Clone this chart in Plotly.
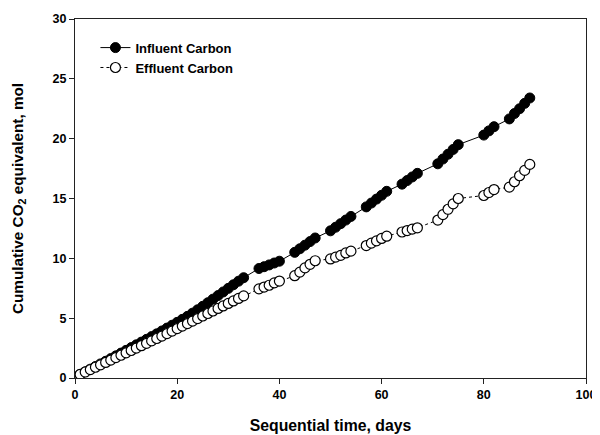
import plotly.graph_objects as go

# Days (sequential time) and cumulative CO2 equivalent (mol)
days_continuous = list(range(1, 34))
days_later = [36, 37, 38, 39, 40,
              43, 44, 45, 46, 47,
              50, 51, 52, 53, 54,
              57, 58, 59, 60, 61,
              64, 65, 66, 67,
              71, 72, 73, 74, 75,
              80, 81, 82,
              85, 86, 87, 88, 89]
days = days_continuous + days_later

influent_early = [0.30, 0.52, 0.74, 0.96, 1.18, 1.40, 1.62, 1.85, 2.08, 2.31,
                  2.54, 2.77, 3.00, 3.23, 3.46, 3.69, 3.93, 4.17, 4.41, 4.65,
                  4.90, 5.15, 5.42, 5.70, 5.99, 6.29, 6.59, 6.89, 7.19, 7.49,
                  7.79, 8.09, 8.38]
influent_late = [9.15, 9.30, 9.45, 9.61, 9.76,
                 10.5, 10.8, 11.1, 11.4, 11.7,
                 12.3, 12.6, 12.9, 13.2, 13.5,
                 14.3, 14.62, 14.95, 15.27, 15.6,
                 16.2, 16.5, 16.8, 17.1,
                 17.9, 18.3, 18.7, 19.1, 19.5,
                 20.3, 20.65, 21.0,
                 21.65, 22.1, 22.5, 22.95, 23.4]
influent = influent_early + influent_late

effluent_early = [0.30, 0.50, 0.70, 0.90, 1.10, 1.30, 1.50, 1.70, 1.90, 2.10,
                  2.30, 2.50, 2.70, 2.90, 3.10, 3.30, 3.50, 3.71, 3.92, 4.13,
                  4.34, 4.55, 4.76, 4.97, 5.18, 5.39, 5.60, 5.81, 6.02, 6.23,
                  6.44, 6.65, 6.86]
effluent_late = [7.45, 7.60, 7.75, 7.95, 8.10,
                 8.55, 8.85, 9.20, 9.50, 9.80,
                 9.95, 10.10, 10.25, 10.45, 10.60,
                 11.07, 11.27, 11.46, 11.66, 11.85,
                 12.20, 12.32, 12.44, 12.55,
                 13.20, 13.65, 14.10, 14.55, 15.00,
                 15.25, 15.50, 15.75,
                 15.95, 16.40, 16.90, 17.35, 17.85]
effluent = effluent_early + effluent_late

x_ticks = [0, 20, 40, 60, 80, 100]
y_ticks = [0, 5, 10, 15, 20, 25, 30]

FONT = "Liberation Sans, Arial, sans-serif"

fig = go.Figure()
fig.add_trace(go.Scatter(
    x=days, y=influent, name="<b>Influent Carbon</b>", mode="lines+markers",
    line=dict(color="black", width=1),
    marker=dict(symbol="circle", size=10, color="black",
                line=dict(color="black", width=1)),
))
fig.add_trace(go.Scatter(
    x=days, y=effluent, name="<b>Effluent Carbon</b>", mode="lines+markers",
    line=dict(color="black", width=1, dash="dot"),
    marker=dict(symbol="circle", size=10, color="white",
                line=dict(color="black", width=1.2)),
))

axis_common = dict(
    showgrid=False, zeroline=False, showline=True, linecolor="#222",
    linewidth=1.2, mirror=True, ticks="outside", ticklen=5, tickcolor="#222",
    automargin=False,
    tickfont=dict(family=FONT, size=12.5, color="black"),
)

# The page body adds an 8px offset, so the figure is sized to fit the window.
fig.update_layout(
    width=592, height=427,
    margin=dict(l=67, r=14, t=11, b=57),
    paper_bgcolor="white", plot_bgcolor="white",
    font=dict(family=FONT, color="black"),
    showlegend=True,
    legend=dict(x=0.04, y=0.962, xanchor="left", yanchor="top",
                bgcolor="rgba(0,0,0,0)", font=dict(family=FONT, size=13),
                tracegroupgap=0, itemwidth=30),
    xaxis=dict(range=[0, 100], tickvals=x_ticks,
               ticktext=[f"<b>{v}</b>" for v in x_ticks],
               title=dict(text="<b>Sequential time, days</b>",
                          font=dict(family=FONT, size=15.8), standoff=18),
               **axis_common),
    yaxis=dict(range=[0, 30], tickvals=y_ticks,
               ticktext=[f"<b>{v}</b>" for v in y_ticks],
               title=dict(text="<b>Cumulative CO<sub>2</sub> equivalent, mol</b>",
                          font=dict(family=FONT, size=15.3), standoff=25),
               **axis_common),
)

fig.write_html("out.html")
